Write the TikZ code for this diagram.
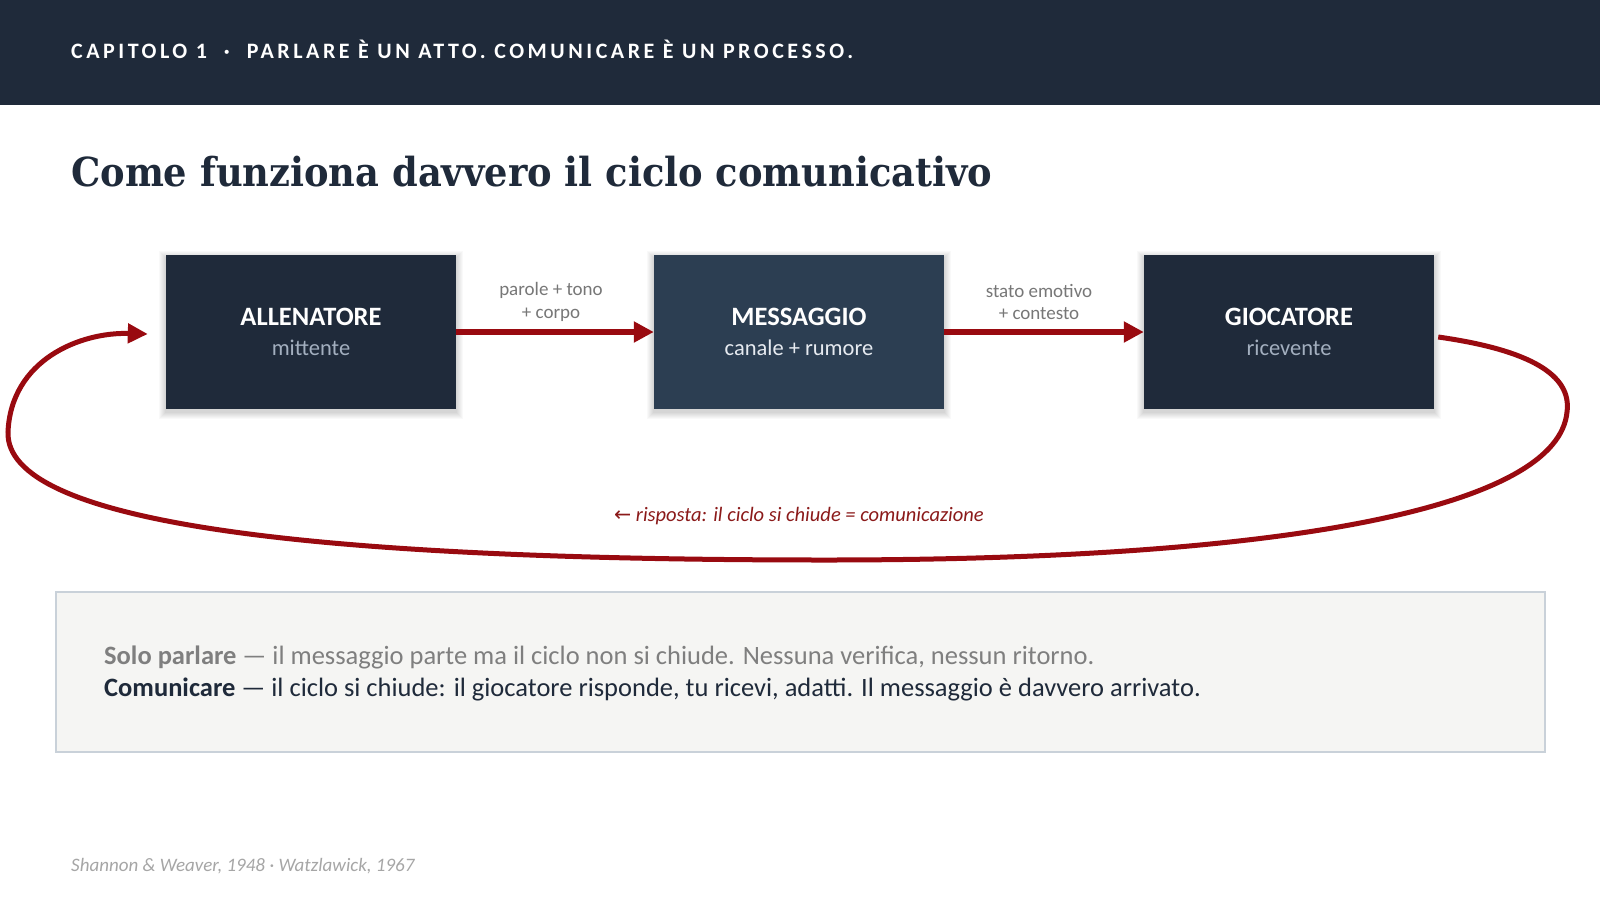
\documentclass[tikz,border=0pt]{standalone}
\usepackage{fontspec}
\setmainfont{Carlito}
\newfontfamily\hdrfont[LetterSpace=16]{Carlito}
\newfontfamily\titlefont[FakeStretch=0.92]{DejaVu Serif}
\newfontfamily\symfont{DejaVu Sans}
\usetikzlibrary{arrows.meta,backgrounds}
\definecolor{navy}{HTML}{1F2A3A}
\definecolor{navymid}{HTML}{2C3E52}
\definecolor{redline}{HTML}{990A10}
\definecolor{redtext}{HTML}{8B1A1A}
\definecolor{subgray}{HTML}{A3AFBF}
\definecolor{subwhite}{HTML}{E6EAF0}
\definecolor{lblgray}{HTML}{777777}
\definecolor{panelfill}{HTML}{F5F5F3}
\definecolor{panelline}{HTML}{C9D1D9}
\definecolor{softgray}{HTML}{7F7F7F}
\definecolor{footgray}{HTML}{A6A6A6}
\tikzset{
  stagebox/.style={fill=navy, minimum width=290pt, minimum height=154pt, inner sep=0pt,
    align=center, text=white, font=\fontsize{26.5}{30}\selectfont},
  shadowlayer/.style={fill=black, fill opacity=0.025},
  flowarrow/.style={draw=redline, line width=5.5pt, -{Triangle[length=20pt,width=20pt]}},
  looparrow/.style={draw=redline, line width=5pt, -{Triangle[length=20pt,width=19pt]}},
  flowlabel/.style={text=lblgray, align=center, font=\fontsize{19}{22.5}\selectfont},
}
\begin{document}
\begin{tikzpicture}[x=1pt,y=-1pt]
\useasboundingbox (0,0) rectangle (1600,900);
% header
\fill[navy] (0,0) rectangle (1600,105);
\node[anchor=base west, inner sep=0pt, text=white, font=\hdrfont\bfseries\fontsize{22}{24}\selectfont] (hdr) at (71,58)
  {CAPITOLO 1 \ · \ PARLARE È UN ATTO. COMUNICARE È UN PROCESSO.};
% title
\node[anchor=base west, inner sep=0pt, text=navy, font=\titlefont\bfseries\fontsize{40}{46}\selectfont] (title) at (71,186)
  {Come funziona davvero il ciclo comunicativo};
% boxes
\node[stagebox] (a) at (311,332)
  {\textbf{ALLENATORE}\\{\fontsize{22.5}{30}\selectfont\color{subgray}mittente}};
\node[stagebox, fill=navymid] (b) at (799,332)
  {\textbf{MESSAGGIO}\\{\fontsize{22.5}{30}\selectfont\color{subwhite}canale + rumore}};
\node[stagebox] (c) at (1289,332)
  {\textbf{GIOCATORE}\\{\fontsize{22.5}{30}\selectfont\color{subgray}ricevente}};
\begin{pgfonlayer}{background}
\fill[white] (0,105) rectangle (1600,900);
\foreach \bx in {a,b,c}{
  \foreach \i in {1,...,7}{
    \fill[shadowlayer] ([shift={(-\i,-\i+3)}]\bx.north west) rectangle ([shift={(\i,\i+3)}]\bx.south east);
  }
}
\end{pgfonlayer}
% forward arrows
\draw[flowarrow] (a.east) -- (b.west);
\draw[flowarrow] (b.east) -- (c.west);
\node[flowlabel] (l1) at (551,302) {parole + tono\\+ corpo};
\node[flowlabel] (l2) at (1039,302) {stato emotivo\\+ contesto};
% feedback loop
\coordinate (ls) at ([shift={(4,5)}]c.east);
\coordinate (le) at ([shift={(-18,2)}]a.west);
\draw[looparrow] (ls) .. controls (1530,350) and (1572,375) .. (1567,412)
  .. controls (1558,505) and (1300,560) .. (826,560)
  .. controls (300,560) and (5,522) .. (8,432)
  .. controls (11,360) and (80,332) .. (le);
\node[text=redtext, font=\itshape\fontsize{20.5}{24}\selectfont] (resp) at (799,516)
  {{\symfont\upshape ←} risposta: il ciclo si chiude = comunicazione};
% panel
\node[draw=panelline, line width=2pt, fill=panelfill, minimum width=1489pt, minimum height=160pt, inner sep=0pt] (panel) at (800.5,672) {};
\node[anchor=west, inner sep=0pt, text=softgray, font=\fontsize{26.5}{30}\selectfont] (p1) at (104,657)
  {\textbf{Solo parlare} — il messaggio parte ma il ciclo non si chiude. Nessuna verifica, nessun ritorno.};
\node[anchor=west, inner sep=0pt, text=navy, font=\fontsize{26.5}{30}\selectfont] (p2) at (104,689)
  {\textbf{Comunicare} — il ciclo si chiude: il giocatore risponde, tu ricevi, adatti. Il messaggio è davvero arrivato.};
% footer
\node[anchor=west, inner sep=0pt, text=footgray, font=\itshape\fontsize{19}{22}\selectfont] (foot) at (71,866)
  {Shannon \& Weaver, 1948 · Watzlawick, 1967};
\end{tikzpicture}
\end{document}
